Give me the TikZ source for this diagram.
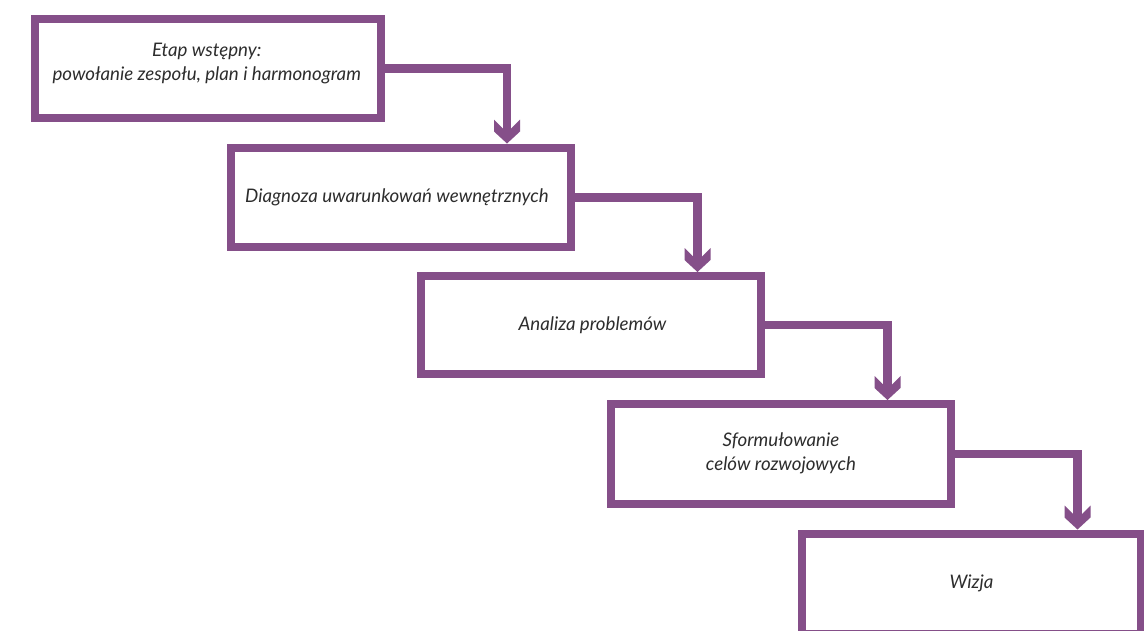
\documentclass[tikz,border=0pt]{standalone}
\usepackage{fontspec}
\setmainfont{Lato}
\usetikzlibrary{calc}
\definecolor{plum}{RGB}{133,79,137}
\definecolor{ink}{RGB}{45,45,45}
\tikzset{
  stage/.style={draw=plum, line width=8pt, fill=white, inner sep=0pt,
    minimum width=340pt, minimum height=99pt},
  caption/.style={text=ink, font=\fontsize{18.7}{24}\selectfont\itshape, align=center},
  link/.style={draw=plum, line width=8.5pt, line join=miter, shorten >=14pt},
  chevron/.pic={\fill[plum] (0,0) -- (-13,-12) -- (-13,-24) -- (-4.25,-15.25)
      -- (4.25,-15.25) -- (13,-24) -- (13,-12) -- cycle;}
}
\begin{document}
\begin{tikzpicture}[x=1pt,y=-1pt]
\clip (0,0) rectangle (1144,630);
\fill[white] (0,0) rectangle (1144,630);

% stages of the process, stepping down to the right
\node[stage, minimum width=346.5pt] (b1) at (207.75,68.5) {};
\node[stage, minimum height=99.5pt] (b2) at (401,197.25) {};
\node[stage, minimum height=98pt]   (b3) at (591,325) {};
\node[stage, minimum height=100pt]  (b4) at (781,454) {};
\node[stage, minimum width=339pt, minimum height=100pt] (b5) at (971.5,583.5) {};

\node[caption] (t1) at ($(b1.center)+(-1,-5)$) {Etap wstępny:\\powołanie zespołu, plan i harmonogram};
\node[caption] (t2) at ($(b2.center)+(-4,0)$) {Diagnoza uwarunkowań wewnętrznych};
\node[caption] (t3) at ($(b3.center)+(1.5,0)$) {Analiza problemów};
\node[caption] (t4) at ($(b4.center)+(0,-0.5)$) {Sformułowanie\\celów rozwojowych};
\node[caption] (t5) at (b5.center) {Wizja};

% elbow connectors between consecutive stages
\coordinate (k1) at (507,0);
\coordinate (k2) at (697.5,0);
\coordinate (k3) at (887.5,0);
\coordinate (k4) at (1077.5,0);

\draw[link] (b1.east) -| (k1 |- b2.north);
\pic at (k1 |- b2.north) {chevron};
\draw[link] (b2.east) -| (k2 |- b3.north);
\pic at (k2 |- b3.north) {chevron};
\draw[link] (b3.east) -| (k3 |- b4.north);
\pic at (k3 |- b4.north) {chevron};
\draw[link] (b4.east) -| (k4 |- b5.north);
\pic at (k4 |- b5.north) {chevron};
\end{tikzpicture}
\end{document}
